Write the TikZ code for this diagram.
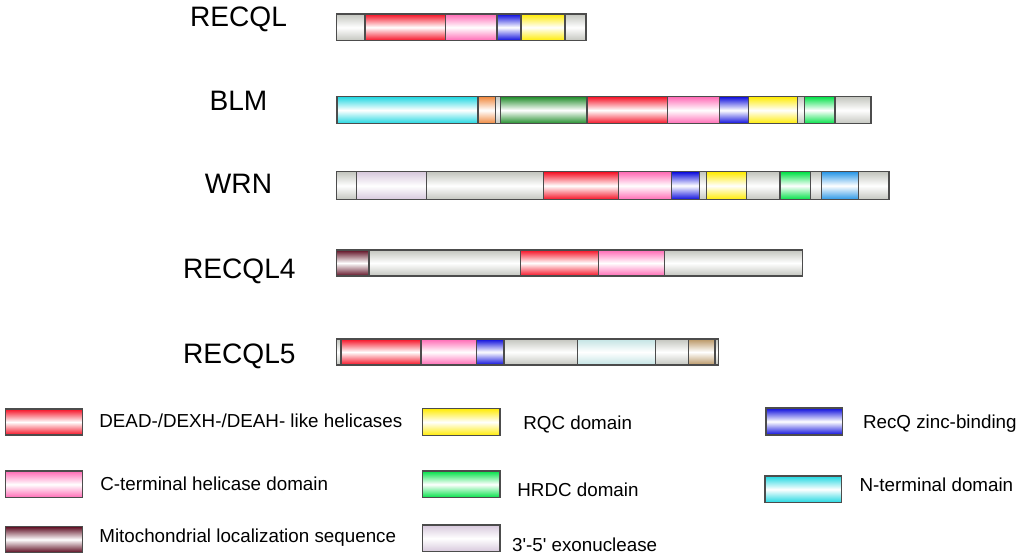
\documentclass[tikz,border=0pt]{standalone}
\usepackage{fontspec}
\setmainfont{Liberation Sans}[Ligatures=TeXOff]
\usepackage{tikz}

\definecolor{domred}{RGB}{245,15,35}
\definecolor{dompink}{RGB}{255,105,180}
\definecolor{domblue}{RGB}{10,10,220}
\definecolor{domyellow}{RGB}{255,235,0}
\definecolor{domgray}{RGB}{195,197,190}
\definecolor{domcyan}{RGB}{30,215,225}
\definecolor{domorange}{RGB}{240,135,60}
\definecolor{domdkgreen}{RGB}{30,140,40}
\definecolor{domgreen}{RGB}{0,225,70}
\definecolor{domlav}{RGB}{215,200,220}
\definecolor{domsky}{RGB}{40,150,230}
\definecolor{dommaroon}{RGB}{95,15,35}
\definecolor{dompale}{RGB}{195,228,228}
\definecolor{domtan}{RGB}{185,150,100}

\begin{document}
\begin{tikzpicture}[x=0.02cm,y=-0.02cm,
  dom/.style={draw=black!70,line width=0.7pt,top color=#1,bottom color=#1,middle color=white},
  protlab/.style={anchor=base,font=\fontsize{16}{19}\selectfont},
  keytext/.style={anchor=base west,inner sep=0pt,font=\fontsize{10.7}{13}\selectfont}]

\useasboundingbox (0,0) rectangle (1020,558);

\node[protlab] (recql) at (238.5,26.7) {RECQL};
\node[protlab] (blm) at (238.5,110) {BLM};
\node[protlab] (wrn) at (238.5,193) {WRN};
\node[protlab] (recql4) at (239.3,278) {RECQL4};
\node[protlab] (recql5) at (239.3,363) {RECQL5};

% RECQL
\foreach \a/\b/\c in {336.7/365/domgray,365/445.7/domred,445.7/497/dompink,
  497/521/domblue,521/565/domyellow,565/586/domgray}
  \draw[dom=\c] (\a,14) rectangle (\b,40.7);

% BLM
\foreach \a/\b/\c in {337/478/domcyan,478/495.6/domorange,495.6/500.8/domgray,
  500.8/587/domdkgreen,587/667.8/domred,667.8/719.3/dompink,719.3/748.4/domblue,
  748.4/797.5/domyellow,797.5/804.2/domgray,804.2/835/domgreen,835/870.9/domgray}
  \draw[dom=\c] (\a,96.5) rectangle (\b,123.8);

% WRN
\foreach \a/\b/\c in {336.4/356.8/domgray,356.8/426.4/domlav,426.4/543.6/domgray,
  543.6/618.6/domred,618.6/671.8/dompink,671.8/699.6/domblue,699.6/706.8/domgray,
  706.8/746.8/domyellow,746.8/780/domgray,780/810.7/domgreen,810.7/821.8/domgray,
  821.8/858.6/domsky,858.6/888.9/domgray}
  \draw[dom=\c] (\a,171.8) rectangle (\b,199.6);

% RECQL4
\foreach \a/\b/\c in {336.7/369/dommaroon,369/520.7/domgray,520.7/598.3/domred,
  598.3/664.3/dompink,664.3/802.7/domgray}
  \draw[dom=\c] (\a,250) rectangle (\b,276);

% RECQL5
\foreach \a/\b/\c in {336.7/341/domgray,341/421/domred,421/476.7/dompink,
  476.7/504/domblue,504/577.7/domgray,577.7/655.7/dompale,655.7/688.3/domgray,
  688.3/715/domtan,715/718.3/domgray}
  \draw[dom=\c] (\a,339) rectangle (\b,365);

% legend
\draw[dom=domred] (5.7,409) rectangle (82.3,435);
\node[keytext] (kdead) at (99,427.3) {DEAD-/DEXH-/DEAH- like helicases};
\draw[dom=dompink] (5.7,471) rectangle (82.3,497.7);
\node[keytext] (kcterm) at (100,490) {C-terminal helicase domain};
\draw[dom=dommaroon] (5.7,526.7) rectangle (82.3,552.3);
\node[keytext] (kmito) at (99,542.7) {Mitochondrial localization sequence};

\draw[dom=domyellow] (422.7,408.3) rectangle (500,435.7);
\node[keytext] (krqc) at (523,429) {RQC domain};
\draw[dom=domgreen] (422.7,471) rectangle (500,497.7);
\node[keytext] (khrdc) at (517,496.7) {HRDC domain};
\draw[dom=domlav] (422.7,525) rectangle (500,551.7);
\node[keytext] (kexo) at (511.7,551) {3'-5' exonuclease};

\draw[dom=domblue] (766,408) rectangle (842.7,435);
\node[keytext] (kzinc) at (862.7,428.3) {RecQ zinc-binding};
\draw[dom=domcyan] (765,476) rectangle (841.7,502.7);
\node[keytext] (knterm) at (859.3,491.7) {N-terminal domain};
\end{tikzpicture}
\end{document}
